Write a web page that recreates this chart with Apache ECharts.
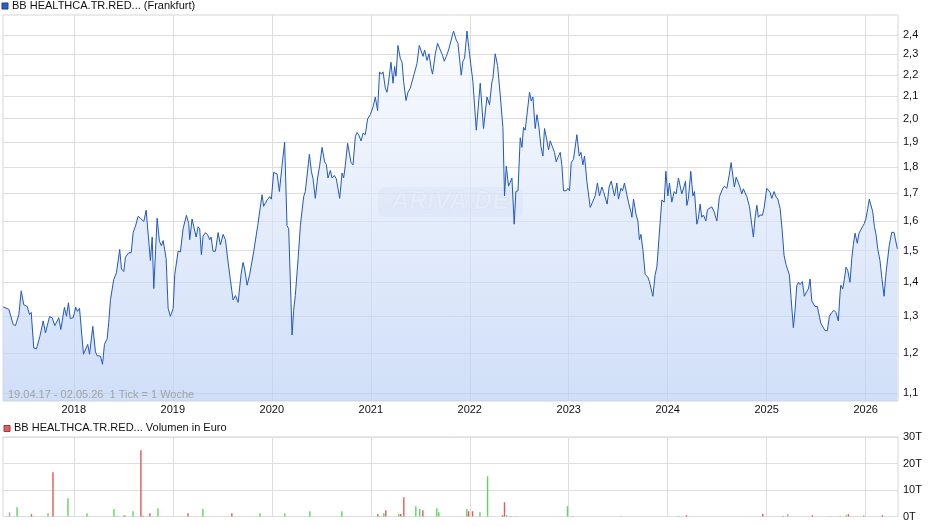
<!DOCTYPE html>
<html><head><meta charset="utf-8">
<script src="https://cdn.jsdelivr.net/npm/echarts@6/dist/echarts.min.js"></script>
<style>html,body{margin:0;padding:0;background:#fff}#c{width:940px;height:526px}</style>
</head><body><div id="c"></div>
<script>
// time in decimal years (weekly closes, 19.04.17 - 02.05.26)
const priceT = [
2017.287,2017.344,2017.388,2017.411,2017.445,2017.469,2017.495,2017.530,2017.553,2017.570,
2017.596,2017.623,2017.657,2017.691,2017.714,2017.755,2017.782,2017.808,2017.849,2017.869,
2017.906,2017.926,2017.946,2017.964,2017.994,2018.020,2018.037,2018.058,2018.098,2018.141,
2018.159,2018.192,2018.219,2018.236,2018.270,2018.290,2018.310,2018.337,2018.353,2018.371,
2018.404,2018.431,2018.444,2018.464,2018.482,2018.505,2018.522,2018.555,2018.580,2018.600,
2018.623,2018.650,2018.673,2018.707,2018.731,2018.747,2018.774,2018.792,2018.808,2018.842,
2018.865,2018.885,2018.903,2018.933,2018.953,2018.976,2019.004,2019.020,2019.054,2019.077,
2019.104,2019.138,2019.161,2019.171,2019.195,2019.212,2019.236,2019.256,2019.272,2019.289,
2019.306,2019.330,2019.353,2019.373,2019.387,2019.407,2019.431,2019.458,2019.481,2019.508,
2019.532,2019.565,2019.575,2019.609,2019.633,2019.660,2019.690,2019.710,2019.726,2019.751,
2019.777,2019.817,2019.858,2019.902,2019.918,2019.953,2019.979,2019.996,2020.019,2020.036,
2020.054,2020.077,2020.104,2020.130,2020.154,2020.171,2020.205,2020.221,2020.238,2020.266,
2020.289,2020.322,2020.339,2020.380,2020.400,2020.417,2020.440,2020.463,2020.484,2020.508,
2020.534,2020.551,2020.568,2020.592,2020.609,2020.632,2020.652,2020.686,2020.710,2020.726,
2020.743,2020.766,2020.783,2020.801,2020.821,2020.844,2020.861,2020.877,2020.902,2020.922,
2020.945,2020.968,2020.995,2021.023,2021.046,2021.069,2021.089,2021.107,2021.124,2021.147,
2021.164,2021.180,2021.204,2021.225,2021.241,2021.255,2021.275,2021.298,2021.316,2021.332,
2021.356,2021.376,2021.399,2021.416,2021.440,2021.467,2021.490,2021.510,2021.528,2021.544,
2021.568,2021.588,2021.611,2021.624,2021.652,2021.675,2021.702,2021.725,2021.743,2021.763,
2021.786,2021.803,2021.836,2021.864,2021.881,2021.914,2021.931,2021.948,2021.972,2021.998,
2022.032,2022.066,2022.106,2022.139,2022.174,2022.200,2022.224,2022.234,2022.257,2022.281,
2022.308,2022.335,2022.351,2022.369,2022.392,2022.426,2022.449,2022.466,2022.487,2022.510,
2022.527,2022.543,2022.560,2022.604,2022.621,2022.638,2022.661,2022.679,2022.699,2022.719,
2022.739,2022.755,2022.779,2022.796,2022.813,2022.840,2022.856,2022.873,2022.890,2022.914,
2022.931,2022.947,2022.974,2022.991,2023.008,2023.025,2023.048,2023.082,2023.106,2023.123,
2023.143,2023.159,2023.183,2023.217,2023.240,2023.267,2023.290,2023.310,2023.335,2023.351,
2023.368,2023.388,2023.408,2023.429,2023.446,2023.462,2023.486,2023.502,2023.527,2023.543,
2023.563,2023.587,2023.603,2023.628,2023.638,2023.654,2023.681,2023.698,2023.714,2023.729,
2023.749,2023.772,2023.799,2023.815,2023.850,2023.873,2023.890,2023.906,2023.940,2023.964,
2023.981,2024.001,2024.017,2024.041,2024.065,2024.085,2024.108,2024.125,2024.142,2024.166,
2024.179,2024.193,2024.209,2024.233,2024.254,2024.270,2024.294,2024.310,2024.327,2024.344,
2024.361,2024.385,2024.401,2024.421,2024.445,2024.469,2024.496,2024.522,2024.539,2024.556,
2024.573,2024.597,2024.623,2024.640,2024.657,2024.673,2024.691,2024.714,2024.731,2024.748,
2024.764,2024.781,2024.799,2024.825,2024.842,2024.865,2024.882,2024.900,2024.916,2024.933,
2024.956,2024.973,2025.000,2025.034,2025.051,2025.074,2025.094,2025.112,2025.135,2025.155,
2025.175,2025.195,2025.213,2025.229,2025.246,2025.269,2025.286,2025.303,2025.320,2025.337,
2025.360,2025.380,2025.404,2025.421,2025.438,2025.455,2025.471,2025.488,2025.511,2025.532,
2025.546,2025.566,2025.589,2025.612,2025.633,2025.657,2025.680,2025.700,2025.723,2025.741,
2025.748,2025.768,2025.784,2025.801,2025.818,2025.841,2025.859,2025.875,2025.892,2025.915,
2025.932,2025.952,2025.970,2025.986,2026.003,2026.020,2026.036,2026.054,2026.071,2026.087,
2026.104,2026.121,2026.144,2026.165,2026.185,2026.205,2026.222,2026.238,2026.263,2026.286,
2026.303,2026.319
];
const priceV = [
1.327,1.320,1.277,1.274,1.305,1.374,1.333,1.328,1.305,1.311,
1.213,1.211,1.244,1.287,1.254,1.299,1.296,1.274,1.296,1.263,
1.326,1.300,1.339,1.294,1.296,1.326,1.314,1.323,1.197,1.223,
1.197,1.272,1.203,1.193,1.192,1.171,1.223,1.238,1.283,1.349,
1.409,1.429,1.429,1.504,1.441,1.433,1.479,1.493,1.493,1.561,
1.582,1.616,1.610,1.598,1.638,1.632,1.468,1.545,1.381,1.610,
1.531,1.516,1.533,1.474,1.323,1.300,1.323,1.424,1.498,1.496,
1.573,1.620,1.591,1.536,1.607,1.610,1.545,1.580,1.573,1.487,
1.548,1.560,1.552,1.536,1.545,1.498,1.498,1.560,1.519,1.554,
1.536,1.447,1.447,1.347,1.360,1.340,1.425,1.462,1.441,1.391,
1.424,1.496,1.584,1.694,1.652,1.675,1.687,1.678,1.779,1.786,
1.772,1.706,1.806,1.900,1.584,1.573,1.248,1.317,1.360,1.474,
1.584,1.687,1.706,1.850,1.783,1.754,1.681,1.757,1.806,1.878,
1.820,1.810,1.757,1.786,1.757,1.767,1.754,1.681,1.776,1.757,
1.806,1.895,1.890,1.817,1.808,1.923,1.940,1.931,1.905,1.937,
1.931,1.998,2.017,2.051,2.096,2.035,2.214,2.203,2.214,2.137,
2.118,2.167,2.261,2.160,2.240,2.193,2.345,2.281,2.261,2.167,
2.080,2.118,2.137,2.140,2.207,2.255,2.345,2.345,2.290,2.322,
2.270,2.303,2.229,2.203,2.303,2.356,2.322,2.296,2.266,2.290,
2.322,2.329,2.420,2.372,2.356,2.198,2.266,2.281,2.420,2.300,
2.167,1.950,2.160,1.957,2.096,2.061,2.167,2.182,2.303,2.245,
2.105,1.962,1.690,1.803,1.726,1.757,1.589,1.706,1.709,1.918,
1.878,1.962,1.950,2.118,2.078,2.096,1.957,2.017,1.962,1.882,
1.843,1.957,1.908,1.868,1.905,1.875,1.858,1.820,1.837,1.858,
1.806,1.709,1.709,1.718,1.709,1.817,1.830,1.931,1.843,1.858,
1.808,1.843,1.745,1.648,1.667,1.690,1.738,1.690,1.723,1.706,
1.706,1.660,1.723,1.745,1.738,1.690,1.738,1.678,1.718,1.709,
1.738,1.694,1.667,1.632,1.613,1.678,1.621,1.600,1.536,1.554,
1.503,1.424,1.416,1.402,1.358,1.424,1.447,1.447,1.675,1.667,
1.783,1.690,1.738,1.667,1.706,1.697,1.757,1.760,1.697,1.726,
1.745,1.655,1.681,1.783,1.690,1.706,1.589,1.610,1.660,1.613,
1.621,1.600,1.640,1.640,1.650,1.632,1.600,1.687,1.687,1.718,
1.726,1.718,1.772,1.817,1.817,1.723,1.760,1.738,1.720,1.697,
1.716,1.723,1.687,1.652,1.645,1.545,1.610,1.656,1.613,1.621,
1.620,1.645,1.718,1.703,1.681,1.706,1.687,1.678,1.645,1.571,
1.485,1.455,1.452,1.423,1.352,1.268,1.317,1.389,1.400,1.393,
1.402,1.358,1.372,1.380,1.410,1.344,1.347,1.328,1.328,1.300,
1.281,1.280,1.260,1.260,1.300,1.311,1.317,1.311,1.287,1.368,
1.391,1.380,1.409,1.447,1.437,1.400,1.474,1.520,1.558,1.524,
1.558,1.552,1.582,1.591,1.610,1.643,1.678,1.678,1.632,1.582,
1.554,1.506,1.468,1.409,1.358,1.429,1.424,1.518,1.561,1.561,
1.561,1.506
];
// volume (thousands of euro, "T"), with direction: r = down, g = up, n = unchanged
const volT = [2017.351,2017.427,2017.573,2017.740,2017.790,2017.941,2018.133,2018.406,2018.441,2018.507,
2018.517,2018.598,2018.678,2018.699,2018.769,2018.850,2019.153,2019.304,2019.597,2019.880,
2020.132,2020.385,2020.708,2021.071,2021.086,2021.132,2021.152,2021.283,2021.303,2021.334,
2021.455,2021.495,2021.526,2021.667,2021.687,2021.970,2021.988,2022.028,2022.103,2022.180,
2022.331,2022.351,2022.372,2022.409,2022.462,2022.987,2023.038,2023.527,2024.115,2024.189,
2024.960,2025.168,2025.213,2025.461,2025.637,2025.741,2025.804,2025.825,2025.980,2026.168];
const volV = [1.6,3.5,0.9,1.2,16.7,6.9,1.2,2.8,0.3,0.4,
0.5,2.0,25.0,0.3,1.2,3.1,1.2,2.8,1.2,1.2,
1.2,2.0,2.0,0.9,0.2,1.2,2.4,0.9,0.9,7.3,
3.9,2.8,2.4,3.1,1.6,2.8,2.0,2.0,1.6,15.2,
0.5,5.4,0.5,0.2,0.2,3.9,0.2,0.2,0.2,0.5,
0.9,0.2,0.9,0.5,0.2,0.2,0.5,0.9,0.5,0.5];
const volDir = ['n','g','r','g','r','g','g','g','n','r',
'g','g','r','r','r','g','r','g','r','g',
'g','g','g','r','g','g','r','g','r','r',
'g','g','r','g','g','g','r','r','g','g',
'r','r','g','g','g','g','g','g','g','r',
'r','r','n','r','g','g','g','r','g','r'];
const priceTicks = [1.1,1.2,1.3,1.4,1.5,1.6,1.7,1.8,1.9,2.0,2.1,2.2,2.3,2.4];
const yearTicks = [2018,2019,2020,2021,2022,2023,2024,2025,2026];

const X_MIN = 2017.285, X_MAX = 2026.326;
const FONT = '"Liberation Sans", Arial, sans-serif';
const dirColor = {r:'#e05a5a', g:'#5ed65e', n:'#aaaaaa'};
const gridColor = '#dddddd';

const chart = echarts.init(document.getElementById('c'), null, {renderer:'canvas'});
chart.setOption({
  animation: false,
  backgroundColor: '#ffffff',
  textStyle: {fontFamily: FONT},
  grid: [
    {left: 3, right: 42, top: 15, height: 386, show: true, borderColor: '#d6d6d6', borderWidth: 1, backgroundColor: 'transparent'},
    {left: 3, right: 42, top: 437, height: 79.5, show: true, borderColor: '#d6d6d6', borderWidth: 1}
  ],
  xAxis: [
    {type: 'value', gridIndex: 0, min: X_MIN, max: X_MAX,
     axisLine: {show: false},
     axisTick: {show: false, customValues: yearTicks},
     axisLabel: {customValues: yearTicks, formatter: v => String(Math.round(v)), color: '#111', fontSize: 11, margin: 3.5, fontFamily: FONT},
     splitLine: {show: true, lineStyle: {color: gridColor, width: 1}}},
    {type: 'value', gridIndex: 1, min: X_MIN, max: X_MAX,
     axisLine: {show: false},
     axisTick: {show: false, customValues: yearTicks},
     axisLabel: {show: false, customValues: yearTicks},
     splitLine: {show: true, lineStyle: {color: gridColor, width: 1}}}
  ],
  yAxis: [
    {type: 'log', gridIndex: 0, position: 'right', min: 1.081, max: 2.506,
     axisLine: {show: false},
     axisTick: {show: false, customValues: priceTicks},
     axisLabel: {customValues: priceTicks, formatter: v => Number(v).toFixed(1).replace('.', ','), color: '#111', fontSize: 11, margin: 5, padding: [3, 0, 0, 0], fontFamily: FONT},
     splitLine: {show: true, lineStyle: {color: gridColor, width: 1}}},
    {type: 'value', gridIndex: 1, position: 'right', min: 0, max: 30, interval: 10,
     axisLine: {show: false}, axisTick: {show: false},
     axisLabel: {formatter: v => v + 'T', color: '#111', fontSize: 11, margin: 5, padding: [2, 0, 0, 0], fontFamily: FONT},
     splitLine: {show: true, lineStyle: {color: gridColor, width: 1}}}
  ],
  graphic: [
    {type: 'rect', left: 1.5, top: 2.5, shape: {width: 6, height: 6}, style: {fill: '#2c5fc6', stroke: '#1c3f8a', lineWidth: 1}, z: 100},
    {type: 'text', left: 12, top: 0.5, style: {text: 'BB HEALTHCA.TR.RED... (Frankfurt)', font: '11px ' + FONT, fill: '#111'}, z: 100},
    {type: 'text', left: 8, top: 389, style: {text: '19.04.17 - 02.05.26  1 Tick = 1 Woche', font: '11px ' + FONT, fill: '#a3a3a3'}, z: 100},
    {type: 'rect', left: 3.5, top: 425, shape: {width: 6, height: 6}, style: {fill: '#e06060', stroke: '#9a3a3a', lineWidth: 1}, z: 100},
    {type: 'text', left: 14, top: 422, style: {text: 'BB HEALTHCA.TR.RED... Volumen in Euro', font: '11px ' + FONT, fill: '#111'}, z: 100},
    {type: 'group', left: 378, top: 187, z: 5, children: [
      {type: 'rect', shape: {x: 0, y: 0, width: 145, height: 30, r: 7}, style: {fill: 'rgba(140,160,195,0.16)'}},
      {type: 'text', style: {x: 72, y: 15.5, text: 'ARIVA.DE', align: 'center', verticalAlign: 'middle', font: 'italic bold 25px ' + FONT, fill: 'rgba(255,255,255,0.7)', stroke: 'rgba(170,185,210,0.4)', lineWidth: 1}}
    ]}
  ],
  series: [
    {type: 'line', xAxisIndex: 0, yAxisIndex: 0, showSymbol: false, symbol: 'none',
     data: priceT.map((t, i) => [t, priceV[i]]),
     lineStyle: {color: '#2158c2', width: 1},
     areaStyle: {origin: 'start', color: new echarts.graphic.LinearGradient(0, 0, 0, 1, [
       {offset: 0, color: 'rgba(246,249,254,0.9)'}, {offset: 1, color: 'rgba(184,206,245,0.95)'}])},
     z: 3},
    {type: 'bar', xAxisIndex: 1, yAxisIndex: 1, barWidth: 1.4,
     data: volT.map((t, i) => ({value: [t, volV[i]], itemStyle: {color: dirColor[volDir[i]]}})),
     z: 3}
  ]
});
</script></body></html>
